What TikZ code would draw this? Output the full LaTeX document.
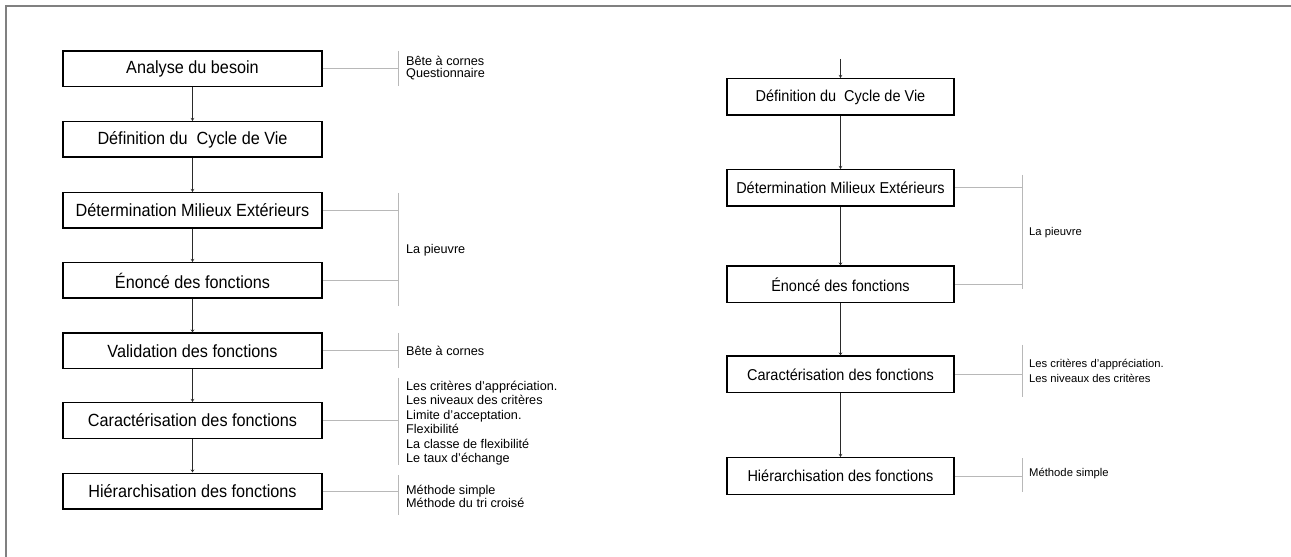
\documentclass[tikz,border=0pt]{standalone}
\usepackage{fontspec}
\setmainfont{Liberation Sans}
\usetikzlibrary{arrows.meta}
\definecolor{framegray}{HTML}{808080}
\definecolor{linkgray}{HTML}{B8B8B8}
\definecolor{flowgray}{HTML}{2A2A2A}
\newcommand\sqz[1]{\scalebox{0.92}[1]{#1}}
\tikzset{
  boxL/.style={draw=black, line width=1.5bp, minimum width=259bp, minimum height=35.5bp, inner sep=0pt,
    font=\fontsize{17.7}{19}\selectfont},
  boxR/.style={draw=black, line width=1.5bp, minimum width=227bp, minimum height=36.5bp, inner sep=0pt,
    font=\fontsize{15.8}{17}\selectfont},
  flow/.style={draw=flowgray, line width=1.7bp, -{Stealth[length=3bp,width=3.5bp]}},
  link/.style={draw=linkgray, line width=1bp},
  noteL/.style={anchor=west, inner sep=0pt, align=left, font=\fontsize{12.7}{14.5}\selectfont},
  noteR/.style={anchor=west, inner sep=0pt, align=left, font=\fontsize{11.3}{15}\selectfont},
}
\begin{document}
\begin{tikzpicture}[x=1bp,y=-1bp]
\useasboundingbox (0,0) rectangle (1291,557);
\fill[white] (0,0) rectangle (1291,557);
% frame
\coordinate (f1) at (6,557);
\coordinate (f2) at (6,6);
\coordinate (f3) at (1291,6);
\draw[framegray, line width=2bp] (f1) -- (f2) -- (f3);

% ---------- left column ----------
\node[boxL] (a1) at (192.5,69) {\sqz{Analyse du besoin}};
\node[boxL] (a2) at (192.5,139.5) {\sqz{Définition du\ \ Cycle de Vie}};
\node[boxL] (a3) at (192.5,210.5) {\sqz{Détermination Milieux Extérieurs}};
\node[boxL] (a4) at (192.5,280.5) {\sqz{Énoncé des fonctions}};
\node[boxL] (a5) at (192.5,351) {\sqz{Validation des fonctions}};
\node[boxL] (a6) at (192.5,420.5) {\sqz{Caractérisation des fonctions}};
\node[boxL] (a7) at (192.5,491) {\sqz{Hiérarchisation des fonctions}};
\draw[flow] (a1) -- (a2);
\draw[flow] (a2) -- (a3);
\draw[flow] (a3) -- (a4);
\draw[flow] (a4) -- (a5);
\draw[flow] (a5) -- (a6);
\draw[flow] (a6) -- (a7);

% brackets left
\coordinate (lb1t) at (398,51);  \coordinate (lb1b) at (398,86);
\coordinate (lb2t) at (398,193); \coordinate (lb2b) at (398,306);
\coordinate (lb3t) at (398,333); \coordinate (lb3b) at (398,368);
\coordinate (lb4t) at (398,378); \coordinate (lb4b) at (398,465);
\coordinate (lb5t) at (398,475); \coordinate (lb5b) at (398,515);
\draw[link] (lb1t) -- (lb1b);
\draw[link] (lb2t) -- (lb2b);
\draw[link] (lb3t) -- (lb3b);
\draw[link] (lb4t) -- (lb4b);
\draw[link] (lb5t) -- (lb5b);
\draw[link] (a1.east) -- (a1.east -| lb1t);
\draw[link] (a3.east) -- (a3.east -| lb2t);
\draw[link] (a4.east) -- (a4.east -| lb2t);
\draw[link] (a5.east) -- (a5.east -| lb3t);
\draw[link] (a6.east) -- (a6.east -| lb4t);
\draw[link] (a7.east) -- (a7.east -| lb5t);

\node[noteL, font=\fontsize{12.7}{12}\selectfont] (t1) at (406,68.5) {Bête à cornes\\Questionnaire};
\node[noteL] (t2) at (406,250) {La pieuvre};
\node[noteL] (t3) at (406,351) {Bête à cornes};
\node[noteL] (t4) at (406,423) {Les critères d’appréciation.\\Les niveaux des critères\\Limite d’acceptation.\\Flexibilité\\La classe de flexibilité\\Le taux d’échange};
\node[noteL, font=\fontsize{12.7}{13.3}\selectfont] (t5) at (406,496.5) {Méthode simple\\Méthode du tri croisé};

% ---------- right column ----------
\coordinate (rtop) at (840.5,59);
\node[boxR] (b1) at (840.5,97) {\sqz{Définition du\ \ Cycle de Vie}};
\node[boxR] (b2) at (840.5,188) {\sqz{Détermination Milieux Extérieurs}};
\node[boxR] (b3) at (840.5,284.5) {\sqz{Énoncé des fonctions}};
\node[boxR] (b4) at (840.5,374.5) {\sqz{Caractérisation des fonctions}};
\node[boxR] (b5) at (840.5,476) {\sqz{Hiérarchisation des fonctions}};
\draw[flow] (rtop) -- (b1);
\draw[flow] (b1) -- (b2);
\draw[flow] (b2) -- (b3);
\draw[flow] (b3) -- (b4);
\draw[flow] (b4) -- (b5);

\coordinate (rb1t) at (1022,175); \coordinate (rb1b) at (1022,289);
\coordinate (rb2t) at (1022,345); \coordinate (rb2b) at (1022,397);
\coordinate (rb3t) at (1022,458); \coordinate (rb3b) at (1022,492);
\draw[link] (rb1t) -- (rb1b);
\draw[link] (rb2t) -- (rb2b);
\draw[link] (rb3t) -- (rb3b);
\draw[link] (b2.east) -- (b2.east -| rb1t);
\draw[link] (b3.east) -- (b3.east -| rb1t);
\draw[link] (b4.east) -- (b4.east -| rb2t);
\draw[link] (b5.east) -- (b5.east -| rb3t);

\node[noteR] (s1) at (1029,233) {La pieuvre};
\node[noteR] (s2) at (1029,370.5) {Les critères d’appréciation.\\Les niveaux des critères};
\node[noteR] (s3) at (1029,474) {Méthode simple};
\end{tikzpicture}
\end{document}
